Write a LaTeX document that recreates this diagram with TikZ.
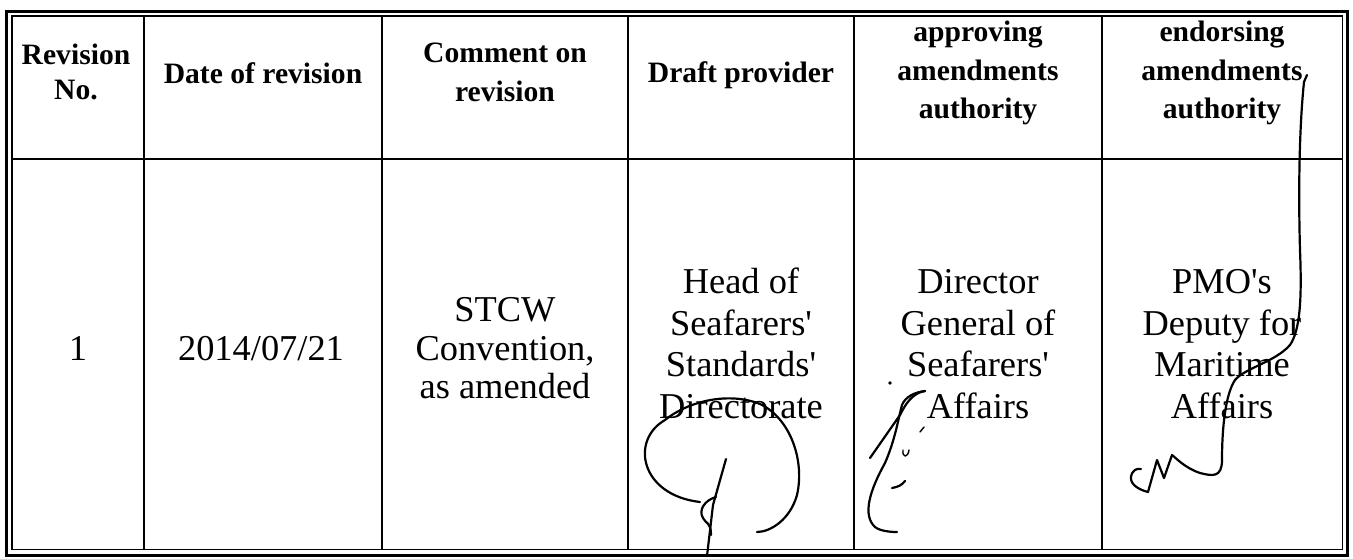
\documentclass[tikz,border=0pt]{standalone}
\usepackage{fontspec}
\setmainfont{Liberation Serif}
\newcommand{\apos}{\XeTeXglyph\XeTeXcharglyph"0027\relax}
\begin{document}
\begin{tikzpicture}[x=1pt,y=-1pt,
  hd/.style={font=\fontsize{29.6}{36}\selectfont\bfseries, anchor=base, inner sep=0pt},
  dt/.style={font=\fontsize{36.4}{42}\selectfont, anchor=base, inner sep=0pt},
  outerframe/.style={line width=3pt},
  rule/.style={line width=1.5pt},
  sig/.style={line width=2.2pt, line cap=round, line join=round},
  sigthin/.style={line width=1.4pt, line cap=round, line join=round}]
\useasboundingbox (0,0) rectangle (1353,558);
% frame
\draw[outerframe] (6.5,11.5) rectangle (1347.5,555);
\draw[rule] (12,16) rectangle (1342.5,549.5);
\foreach \x in {144,382,628,854,1102} \draw[rule] (\x,16) -- (\x,549.5);
\draw[rule] (12,159) -- (1342.5,159);
% header
\node[hd] (h1a) at (76,64) {Revision};
\node[hd] (h1b) at (76,99) {No.};
\node[hd] (h2) at (263,83) {Date of revision};
\node[hd] (h3a) at (505,62) {Comment on};
\node[hd] (h3b) at (505,101) {revision};
\node[hd] (h4) at (741,82) {Draft provider};
\node[hd] (h5a) at (978,41) {approving};
\node[hd] (h5b) at (978,80) {amendments};
\node[hd] (h5c) at (978,118) {authority};
\node[hd] (h6a) at (1222,41) {endorsing};
\node[hd] (h6b) at (1222,80) {amendments};
\node[hd] (h6c) at (1222,118) {authority};
% data
\node[dt] (d1) at (78,360) {1};
\node[dt] (d2) at (261,360) {2014/07/21};
\node[dt] (d3a) at (505,321) {STCW};
\node[dt] (d3b) at (505,360) {Convention,};
\node[dt] (d3c) at (505,398) {as amended};
\node[dt] (d4a) at (741,293) {Head of};
\node[dt] (d4b) at (741,335) {Seafarers\apos};
\node[dt] (d4c) at (741,376) {Standards\apos};
\node[dt] (d4d) at (741,418) {Directorate};
\node[dt] (d5a) at (978,293) {Director};
\node[dt] (d5b) at (978,335) {General of};
\node[dt] (d5c) at (978,376) {Seafarers\apos};
\node[dt] (d5d) at (978,418) {Affairs};
\node[dt] (d6a) at (1222,293) {PMO\apos s};
\node[dt] (d6b) at (1222,335) {Deputy for};
\node[dt] (d6c) at (1222,376) {Maritime};
\node[dt] (d6d) at (1222,418) {Affairs};
% signature 1
\draw[sig] (700,502) .. controls (640,495) and (630,440) .. (665,420)
  .. controls (690,400) and (730,392) .. (760,404)
  .. controls (790,418) and (805,460) .. (797,495)
  .. controls (790,520) and (770,532) .. (757,532);
\draw[sig] (726,459) -- (713,505) -- (707,556);
\draw[sig] (716,497) .. controls (705,500) and (698,510) .. (703,518)
  .. controls (706,524) and (711,522) .. (711,535);
% signature 2
\fill (890,383) circle (1.8);
\draw[sig] (925,391) .. controls (912,393) and (905,405) .. (900,415) -- (870,458);
\draw[sig] (925,391) .. controls (915,392) and (905,397) .. (902,405)
  .. controls (898,420) and (895,440) .. (885,463)
  .. controls (870,490) and (862,515) .. (875,527)
  .. controls (880,531) and (890,532) .. (897,532);
\draw[sigthin] (903,450) .. controls (902,458) and (908,458) .. (909,450);
\draw[sig] (892,488) .. controls (898,487) and (902,485) .. (905,481);
\draw[sigthin] (920,432) -- (924,427);
% signature 3
\draw[sig] (1307,75) -- (1304,82)
  .. controls (1300,120) and (1298,180) .. (1300,250)
  .. controls (1302,300) and (1300,330) .. (1290,345)
  .. controls (1275,362) and (1245,368) .. (1235,380)
  .. controls (1225,395) and (1222,430) .. (1222,460)
  .. controls (1222,478) and (1212,476) .. (1200,473)
  .. controls (1185,468) and (1176,458) .. (1172,455)
  -- (1164,478) -- (1157,460) -- (1148,492)
  .. controls (1140,490) and (1130,485) .. (1131,477)
  .. controls (1132,470) and (1137,468) .. (1141,469);
\end{tikzpicture}
\end{document}
